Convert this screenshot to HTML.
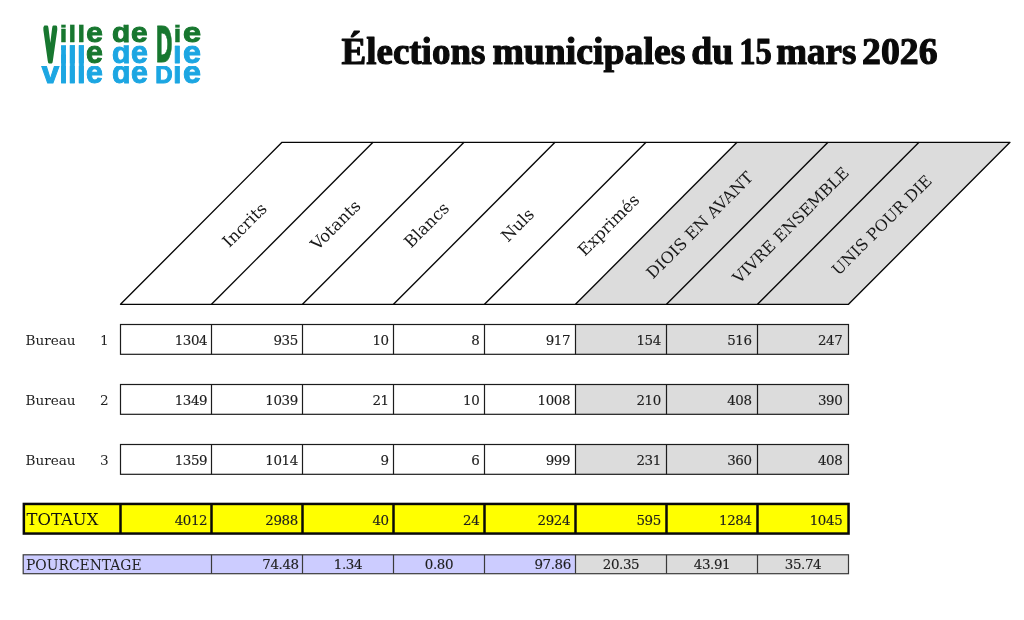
<!DOCTYPE html>
<html lang="fr"><head><meta charset="utf-8"><title>Élections municipales du 15 mars 2026</title>
<style>
html,body{margin:0;padding:0;background:#fff;}
body{width:1024px;height:620px;overflow:hidden;}
svg{display:block;}
.t{font-family:"Liberation Serif","DejaVu Serif",serif;font-weight:bold;font-size:37px;fill:#0a0a0a;stroke:#0a0a0a;stroke-width:1.1px;stroke-linejoin:round;}
.h{font-family:"DejaVu Serif","Liberation Serif",serif;font-size:15.2px;fill:#1a1a1a;}
.b{font-family:"DejaVu Serif","Liberation Serif",serif;font-size:13.6px;fill:#222;}
.p{font-family:"DejaVu Serif","Liberation Serif",serif;font-size:13.9px;fill:#222;}
.n{font-family:"DejaVu Serif","Liberation Serif",serif;font-size:13.4px;letter-spacing:-0.38px;fill:#1e1e1e;stroke:#1e1e1e;stroke-width:0.15px;}
.T{font-family:"DejaVu Serif","Liberation Serif",serif;font-size:16.4px;fill:#111;}
.lg{font-family:"Liberation Sans","DejaVu Sans",sans-serif;font-weight:bold;font-size:30px;}
</style></head><body>
<svg width="1024" height="620" viewBox="0 0 1024 620">
<rect width="1024" height="620" fill="#fff"/>
<defs>
<clipPath id="c1"><rect x="30" y="24.8" width="190" height="20"/></clipPath>
<clipPath id="c2"><rect x="30" y="45.2" width="190" height="20"/></clipPath>
<clipPath id="c3"><rect x="30" y="66" width="190" height="20"/></clipPath>
<clipPath id="c4"><rect x="56" y="45.2" width="32" height="38.4"/></clipPath>
</defs>
<g role="img" aria-label="Ville de Die"><title>Ville de Die</title>
<g class="lg" fill="#17772f" stroke="#17772f" stroke-width="1" stroke-linejoin="round">
<text transform="translate(44.5,59.6) scale(0.58,1.5)" x="0" y="0" style="font-size:30px;stroke-width:4.5px">V</text>
<text transform="translate(155.56,62.4) scale(0.764,1.66)" x="0" y="0" style="font-family:'DejaVu Sans Condensed','Liberation Sans',sans-serif;font-size:30px;stroke-width:0.5px">D</text>
<g clip-path="url(#c1)">
<text y="42.4" style="font-size:27.5px"><tspan x="59.5 68.2 77.2" style="font-family:'DejaVu Sans','Liberation Sans',sans-serif;font-size:23px;stroke-width:0.4px">ill</tspan><tspan x="86.2" textLength="16.6" lengthAdjust="spacingAndGlyphs">e</tspan><tspan x="104"> </tspan><tspan x="112" textLength="18.2" lengthAdjust="spacingAndGlyphs">d</tspan><tspan x="131.1" textLength="16.6" lengthAdjust="spacingAndGlyphs">e</tspan></text>
<text y="42.4" style="font-size:31px"><tspan x="173.4" style="font-family:'DejaVu Sans','Liberation Sans',sans-serif;font-size:23px;stroke-width:0.4px">i</tspan><tspan x="183" style="font-size:27.5px" textLength="18.1" lengthAdjust="spacingAndGlyphs">e</tspan></text>
</g>
</g>
<g class="lg" fill="#1ca6e2" stroke="#1ca6e2" stroke-width="1" stroke-linejoin="round">
<g clip-path="url(#c4)"><text transform="translate(0,83.4) scale(1,1.75)" x="59.3 67.9 76.9" y="0" style="font-size:31px;stroke-width:0.6px">ill</text></g>
<g clip-path="url(#c2)">
<text y="63.1" style="font-size:32px"><tspan x="59.3 67.9 76.9" style="font-size:31px;stroke-width:0.6px">ill</tspan><tspan x="86.1" fill="#17772f" stroke="#17772f" textLength="16.9" lengthAdjust="spacingAndGlyphs">e</tspan><tspan x="104"> </tspan><tspan x="111.9" style="font-size:29.5px" textLength="18.4" lengthAdjust="spacingAndGlyphs">d</tspan><tspan x="131" textLength="16.9" lengthAdjust="spacingAndGlyphs">e</tspan></text>
<text y="63.1" style="font-size:32px"><tspan x="173.1" style="font-size:31px;stroke-width:0.8px">i</tspan><tspan x="183" textLength="18" lengthAdjust="spacingAndGlyphs">e</tspan></text>
</g>
<g clip-path="url(#c3)">
<text y="83.4" style="font-size:32px"><tspan x="41.6" style="font-size:32px">v</tspan><tspan x="59.3 67.9 76.9" style="font-size:31px;stroke-width:0.6px">ill</tspan><tspan x="86.1" textLength="16.9" lengthAdjust="spacingAndGlyphs">e</tspan><tspan x="104"> </tspan><tspan x="111.9" textLength="18.5" lengthAdjust="spacingAndGlyphs">d</tspan><tspan x="131" textLength="16.9" lengthAdjust="spacingAndGlyphs">e</tspan></text>
<text y="83.4" style="font-size:32px"><tspan x="155.3" style="font-size:24px;stroke-width:1px">D</tspan><tspan x="173.1" style="font-size:31px;stroke-width:0.8px">i</tspan><tspan x="183" textLength="18" lengthAdjust="spacingAndGlyphs">e</tspan></text>
</g>
</g>
</g>

<text class="t" y="63.7"><tspan x="341.5">Élections</tspan> <tspan x="492.4" textLength="193" lengthAdjust="spacingAndGlyphs">municipales</tspan> <tspan x="691.3" textLength="42" lengthAdjust="spacingAndGlyphs">du</tspan> <tspan x="739.3" textLength="32.6" lengthAdjust="spacingAndGlyphs">15</tspan> <tspan x="776.3">mars</tspan> <tspan x="862" textLength="75.5" lengthAdjust="spacingAndGlyphs">2026</tspan></text>
<polygon points="575.5,304.3 737.0,142.3 1010.0,142.3 848.5,304.3" fill="#dcdcdc"/>
<g stroke="#050505" stroke-width="1.35" fill="none" stroke-linejoin="round">
<polygon points="120.5,304.3 282.0,142.3 1010.0,142.3 848.5,304.3"/>
<line x1="211.5" y1="304.3" x2="373.0" y2="142.3"/>
<line x1="302.5" y1="304.3" x2="464.0" y2="142.3"/>
<line x1="393.5" y1="304.3" x2="555.0" y2="142.3"/>
<line x1="484.5" y1="304.3" x2="646.0" y2="142.3"/>
<line x1="575.5" y1="304.3" x2="737.0" y2="142.3"/>
<line x1="666.5" y1="304.3" x2="828.0" y2="142.3"/>
<line x1="757.5" y1="304.3" x2="919.0" y2="142.3"/>
</g>
<text class="h" style="font-size:16.5px" text-anchor="middle" transform="translate(248.60,229.00) rotate(-45)">Incrits</text>
<text class="h" style="font-size:16.5px" text-anchor="middle" transform="translate(339.60,229.00) rotate(-45)">Votants</text>
<text class="h" style="font-size:16.5px" text-anchor="middle" transform="translate(430.60,229.00) rotate(-45)">Blancs</text>
<text class="h" style="font-size:16.5px" text-anchor="middle" transform="translate(521.60,229.00) rotate(-45)">Nuls</text>
<text class="h" style="font-size:16.5px" text-anchor="middle" transform="translate(612.60,229.00) rotate(-45)">Exprimés</text>
<text class="h" style="font-size:16.0px" text-anchor="middle" transform="translate(703.60,229.00) rotate(-45)">DIOIS EN AVANT</text>
<text class="h" style="font-size:15.95px" text-anchor="middle" transform="translate(794.60,229.00) rotate(-45)">VIVRE ENSEMBLE</text>
<text class="h" style="font-size:15.8px" text-anchor="middle" transform="translate(885.60,229.00) rotate(-45)">UNIS POUR DIE</text>
<rect x="575.5" y="324.5" width="273.0" height="29.8" fill="#dcdcdc"/>
<g stroke="#1c1c1c" stroke-width="1.2" fill="none">
<rect x="120.5" y="324.5" width="728.0" height="29.8"/>
<line x1="211.5" y1="324.5" x2="211.5" y2="354.3"/>
<line x1="302.5" y1="324.5" x2="302.5" y2="354.3"/>
<line x1="393.5" y1="324.5" x2="393.5" y2="354.3"/>
<line x1="484.5" y1="324.5" x2="484.5" y2="354.3"/>
<line x1="575.5" y1="324.5" x2="575.5" y2="354.3"/>
<line x1="666.5" y1="324.5" x2="666.5" y2="354.3"/>
<line x1="757.5" y1="324.5" x2="757.5" y2="354.3"/>
</g>
<text class="b" x="25.4" y="344.7">Bureau</text>
<text class="b" x="104.3" y="344.7" text-anchor="middle">1</text>
<text class="n" x="207.2" y="344.7" text-anchor="end">1304</text>
<text class="n" x="297.9" y="344.7" text-anchor="end">935</text>
<text class="n" x="388.7" y="344.7" text-anchor="end">10</text>
<text class="n" x="479.4" y="344.7" text-anchor="end">8</text>
<text class="n" x="570.1" y="344.7" text-anchor="end">917</text>
<text class="n" x="660.9" y="344.7" text-anchor="end">154</text>
<text class="n" x="751.6" y="344.7" text-anchor="end">516</text>
<text class="n" x="842.3" y="344.7" text-anchor="end">247</text>
<rect x="575.5" y="384.5" width="273.0" height="29.8" fill="#dcdcdc"/>
<g stroke="#1c1c1c" stroke-width="1.2" fill="none">
<rect x="120.5" y="384.5" width="728.0" height="29.8"/>
<line x1="211.5" y1="384.5" x2="211.5" y2="414.3"/>
<line x1="302.5" y1="384.5" x2="302.5" y2="414.3"/>
<line x1="393.5" y1="384.5" x2="393.5" y2="414.3"/>
<line x1="484.5" y1="384.5" x2="484.5" y2="414.3"/>
<line x1="575.5" y1="384.5" x2="575.5" y2="414.3"/>
<line x1="666.5" y1="384.5" x2="666.5" y2="414.3"/>
<line x1="757.5" y1="384.5" x2="757.5" y2="414.3"/>
</g>
<text class="b" x="25.4" y="404.7">Bureau</text>
<text class="b" x="104.3" y="404.7" text-anchor="middle">2</text>
<text class="n" x="207.2" y="404.7" text-anchor="end">1349</text>
<text class="n" x="297.9" y="404.7" text-anchor="end">1039</text>
<text class="n" x="388.7" y="404.7" text-anchor="end">21</text>
<text class="n" x="479.4" y="404.7" text-anchor="end">10</text>
<text class="n" x="570.1" y="404.7" text-anchor="end">1008</text>
<text class="n" x="660.9" y="404.7" text-anchor="end">210</text>
<text class="n" x="751.6" y="404.7" text-anchor="end">408</text>
<text class="n" x="842.3" y="404.7" text-anchor="end">390</text>
<rect x="575.5" y="444.5" width="273.0" height="29.8" fill="#dcdcdc"/>
<g stroke="#1c1c1c" stroke-width="1.2" fill="none">
<rect x="120.5" y="444.5" width="728.0" height="29.8"/>
<line x1="211.5" y1="444.5" x2="211.5" y2="474.3"/>
<line x1="302.5" y1="444.5" x2="302.5" y2="474.3"/>
<line x1="393.5" y1="444.5" x2="393.5" y2="474.3"/>
<line x1="484.5" y1="444.5" x2="484.5" y2="474.3"/>
<line x1="575.5" y1="444.5" x2="575.5" y2="474.3"/>
<line x1="666.5" y1="444.5" x2="666.5" y2="474.3"/>
<line x1="757.5" y1="444.5" x2="757.5" y2="474.3"/>
</g>
<text class="b" x="25.4" y="464.7">Bureau</text>
<text class="b" x="104.3" y="464.7" text-anchor="middle">3</text>
<text class="n" x="207.2" y="464.7" text-anchor="end">1359</text>
<text class="n" x="297.9" y="464.7" text-anchor="end">1014</text>
<text class="n" x="388.7" y="464.7" text-anchor="end">9</text>
<text class="n" x="479.4" y="464.7" text-anchor="end">6</text>
<text class="n" x="570.1" y="464.7" text-anchor="end">999</text>
<text class="n" x="660.9" y="464.7" text-anchor="end">231</text>
<text class="n" x="751.6" y="464.7" text-anchor="end">360</text>
<text class="n" x="842.3" y="464.7" text-anchor="end">408</text>
<rect x="23.85" y="503.95" width="824.70" height="29.60" fill="#ffff00" stroke="#0a0a0a" stroke-width="2.5"/>
<g stroke="#0a0a0a" stroke-width="2.5">
<line x1="120.5" y1="503.95" x2="120.5" y2="533.55"/>
<line x1="211.5" y1="503.95" x2="211.5" y2="533.55"/>
<line x1="302.5" y1="503.95" x2="302.5" y2="533.55"/>
<line x1="393.5" y1="503.95" x2="393.5" y2="533.55"/>
<line x1="484.5" y1="503.95" x2="484.5" y2="533.55"/>
<line x1="575.5" y1="503.95" x2="575.5" y2="533.55"/>
<line x1="666.5" y1="503.95" x2="666.5" y2="533.55"/>
<line x1="757.5" y1="503.95" x2="757.5" y2="533.55"/>
</g>
<text class="T" x="26.6" y="525">TOTAUX</text>
<text class="n" x="207.2" y="524.6" text-anchor="end">4012</text>
<text class="n" x="297.9" y="524.6" text-anchor="end">2988</text>
<text class="n" x="388.7" y="524.6" text-anchor="end">40</text>
<text class="n" x="479.4" y="524.6" text-anchor="end">24</text>
<text class="n" x="570.1" y="524.6" text-anchor="end">2924</text>
<text class="n" x="660.9" y="524.6" text-anchor="end">595</text>
<text class="n" x="751.6" y="524.6" text-anchor="end">1284</text>
<text class="n" x="842.3" y="524.6" text-anchor="end">1045</text>
<rect x="23.2" y="554.8" width="552.30" height="18.90" fill="#ccccff"/>
<rect x="575.5" y="554.8" width="273.00" height="18.90" fill="#dcdcdc"/>
<g stroke="#3a3a3a" stroke-width="1.2" fill="none">
<rect x="23.2" y="554.8" width="825.30" height="18.90"/>
<line x1="211.5" y1="554.8" x2="211.5" y2="573.7"/>
<line x1="302.5" y1="554.8" x2="302.5" y2="573.7"/>
<line x1="393.5" y1="554.8" x2="393.5" y2="573.7"/>
<line x1="484.5" y1="554.8" x2="484.5" y2="573.7"/>
<line x1="575.5" y1="554.8" x2="575.5" y2="573.7"/>
<line x1="666.5" y1="554.8" x2="666.5" y2="573.7"/>
<line x1="757.5" y1="554.8" x2="757.5" y2="573.7"/>
</g>
<text class="p" x="26" y="569.6">POURCENTAGE</text>
<text class="n" x="298.7" y="569.4" text-anchor="end">74.48</text>
<text class="n" x="348.0" y="569.4" text-anchor="middle">1.34</text>
<text class="n" x="439.0" y="569.4" text-anchor="middle">0.80</text>
<text class="n" x="570.9" y="569.4" text-anchor="end">97.86</text>
<text class="n" x="621.0" y="569.4" text-anchor="middle">20.35</text>
<text class="n" x="712.0" y="569.4" text-anchor="middle">43.91</text>
<text class="n" x="803.0" y="569.4" text-anchor="middle">35.74</text>
</svg></body></html>
